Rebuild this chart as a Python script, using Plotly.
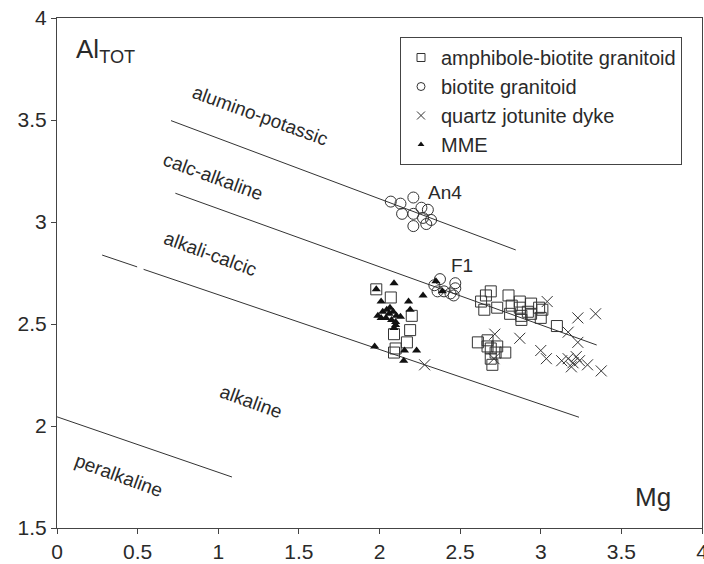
import plotly.graph_objects as go

# ---------------- data ----------------
amph_mg = [1.98, 2.07, 2.20, 2.19, 2.09, 2.17, 2.10, 2.09,
           2.63, 2.65, 2.66, 2.69, 2.73, 2.80, 2.81, 2.82, 2.87, 2.87, 2.88, 2.88,
           2.92, 2.94, 2.94, 2.99, 3.00, 3.01, 3.10,
           2.61, 2.67, 2.67, 2.69, 2.73, 2.78, 2.69, 2.70, 2.72]
amph_al = [2.67, 2.63, 2.54, 2.47, 2.45, 2.41, 2.38, 2.36,
           2.61, 2.57, 2.64, 2.66, 2.58, 2.64, 2.55, 2.59, 2.61, 2.58, 2.54, 2.52,
           2.56, 2.60, 2.55, 2.58, 2.53, 2.57, 2.49,
           2.41, 2.42, 2.39, 2.38, 2.39, 2.36, 2.33, 2.30, 2.36]

bio_mg = [2.07, 2.13, 2.21, 2.14, 2.21, 2.26, 2.30, 2.27, 2.32, 2.21, 2.29,
          2.375, 2.34, 2.36, 2.40, 2.47, 2.47, 2.46, 2.44]
bio_al = [3.10, 3.09, 3.12, 3.04, 3.04, 3.07, 3.06, 3.02, 3.01, 2.98, 2.99,
          2.72, 2.69, 2.66, 2.66, 2.70, 2.675, 2.64, 2.65]

qj_mg = [2.28, 2.715, 2.87, 2.71, 3.04, 3.23, 3.34, 3.17, 3.23, 3.00, 3.035,
         3.13, 3.17, 3.19, 3.22, 3.24, 3.29, 3.375, 3.20]
qj_al = [2.30, 2.45, 2.43, 2.33, 2.61, 2.53, 2.55, 2.46, 2.41, 2.37, 2.33,
         2.32, 2.33, 2.29, 2.34, 2.32, 2.30, 2.27, 2.31]

mme_mg = [2.09, 1.98, 2.01, 2.27, 2.18, 2.19, 1.99, 2.02, 2.045, 2.065, 2.085,
          2.105, 2.13, 2.01, 2.075, 2.10, 2.06, 2.04, 1.97, 2.155, 2.15, 2.23,
          2.35, 2.39, 2.10, 2.09]
mme_al = [2.70, 2.67, 2.61, 2.64, 2.61, 2.57, 2.54, 2.56, 2.57, 2.58, 2.56,
          2.54, 2.535, 2.53, 2.52, 2.495, 2.55, 2.53, 2.39, 2.37, 2.32, 2.37,
          2.71, 2.66, 2.51, 2.48]

# boundary lines between fields
alumino_mg = [0.707, 2.845]
alumino_al = [3.497, 2.863]
calc_mg = [0.734, 3.347]
calc_al = [3.141, 2.397]
alkcalc_mg = [0.28, 0.497, None, 0.537, 3.237]
alkcalc_al = [2.838, 2.780, None, 2.768, 2.043]
peralk_mg = [0.0, 1.085]
peralk_al = [2.045, 1.75]

series_names = ["amphibole-biotite granitoid", "biotite granitoid",
                "quartz jotunite dyke", "MME"]
x_ticks = [0, 0.5, 1, 1.5, 2, 2.5, 3, 3.5, 4]
y_ticks = [1.5, 2, 2.5, 3, 3.5, 4]

# ---------------- figure ----------------
FONT = "Liberation Sans, Arial, sans-serif"
INK = "#2a2a2a"
LINE = "#333333"

fig = go.Figure()

for bx, by in [(alumino_mg, alumino_al), (calc_mg, calc_al),
               (alkcalc_mg, alkcalc_al), (peralk_mg, peralk_al)]:
    fig.add_trace(go.Scatter(x=bx, y=by, mode="lines",
                             line=dict(color=LINE, width=1),
                             showlegend=False, hoverinfo="skip"))

styles = [
    dict(symbol="square-open", size=11, color=LINE, line=dict(width=1, color=LINE)),
    dict(symbol="circle-open", size=11, color=LINE, line=dict(width=1, color=LINE)),
    dict(symbol="x-thin-open", size=11, color=LINE, line=dict(width=1, color=LINE)),
    dict(symbol="triangle-up", size=8, color="#111111", line=dict(width=0)),
]
legend_styles = [
    dict(symbol="square-open", size=8, color=LINE, line=dict(width=1, color=LINE)),
    dict(symbol="circle-open", size=8, color=LINE, line=dict(width=1, color=LINE)),
    dict(symbol="x-thin-open", size=8, color=LINE, line=dict(width=1, color=LINE)),
    dict(symbol="triangle-up", size=6, color="#111111", line=dict(width=0)),
]
datasets = [(amph_mg, amph_al), (bio_mg, bio_al), (qj_mg, qj_al), (mme_mg, mme_al)]

for (xs, ys), st, name in zip(datasets, styles, series_names):
    fig.add_trace(go.Scatter(x=xs, y=ys, mode="markers", marker=st,
                             name=name, showlegend=False))
for st, name in zip(legend_styles, series_names):
    fig.add_trace(go.Scatter(x=[None], y=[None], mode="markers", marker=st,
                             name=name, showlegend=True))

def px(xp, yp):
    return (xp - 57) / 645, (528 - yp) / 510

annots = []
region_labels = [("alumino-potassic", 260, 115), ("calc-alkaline", 213, 176),
                 ("alkali-calcic", 210, 253), ("alkaline", 251, 401),
                 ("peralkaline", 119, 475)]
for txt, a, b in region_labels:
    xp, yp = px(a, b)
    annots.append(dict(text=txt, x=xp, y=yp, xref="paper", yref="paper",
                       showarrow=False, textangle=20,
                       font=dict(family=FONT, size=19, color=INK),
                       xanchor="center", yanchor="middle"))
for txt, a, b, s in [("An4", 445, 192, 19), ("F1", 462, 265, 19), ("Mg", 653, 497, 26)]:
    xp, yp = px(a, b)
    annots.append(dict(text=txt, x=xp, y=yp, xref="paper", yref="paper",
                       showarrow=False, font=dict(family=FONT, size=s, color=INK),
                       xanchor="center", yanchor="middle"))
xp, yp = px(74, 50)
annots.append(dict(text="Al<sub>TOT</sub>", x=xp, y=yp, xref="paper", yref="paper",
                   showarrow=False, font=dict(family=FONT, size=26, color=INK),
                   xanchor="left", yanchor="middle"))

axis_common = dict(showgrid=False, zeroline=False, showline=True, linecolor="#444",
                   linewidth=1, mirror=True, ticks="outside", ticklen=5,
                   tickcolor="#444", tickwidth=1, automargin=False,
                   tickfont=dict(family=FONT, size=21, color=INK))

fig.update_layout(
    width=704, height=564,
    margin=dict(l=57, r=2, t=18, b=36),
    paper_bgcolor="white", plot_bgcolor="white",
    xaxis=dict(range=[0, 4], tickvals=x_ticks,
               ticktext=[f"{v:g}" for v in x_ticks],
               ticklabeloverflow="allow", **axis_common),
    yaxis=dict(range=[1.5, 4], tickvals=y_ticks,
               ticktext=[f"{v:g}" for v in y_ticks], **axis_common),
    legend=dict(x=(400 - 57) / 645, y=(528 - 37) / 510, xanchor="left", yanchor="top",
                bgcolor="white", bordercolor="#444", borderwidth=1,
                font=dict(family=FONT, size=20, color=INK),
                itemsizing="trace"),
    annotations=annots,
    showlegend=True,
)

fig.write_html("out.html")
